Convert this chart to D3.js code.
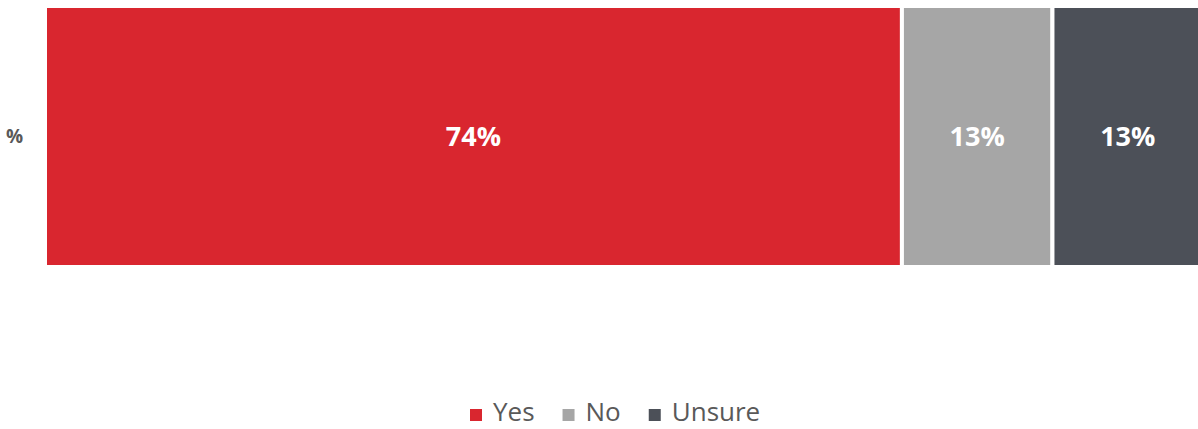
<!DOCTYPE html>
<html>
<head>
<meta charset="utf-8">
<script src="https://cdn.jsdelivr.net/npm/d3@7"></script>
<style>
  html, body { margin: 0; padding: 0; background: #fff; }
  svg { display: block; }
</style>
</head>
<body>
<svg id="chart" width="1198" height="429"></svg>
<script>
// Single stacked bar: share of responses
const categories = ["%"];
const seriesNames = ["Yes", "No", "Unsure"];
const seriesValues = [74, 13, 13];
const seriesColors = ["#D9262F", "#A6A6A6", "#4C5058"];

const svg = d3.select("#chart");
const W = 1198, H = 429;

const x = d3.scaleLinear().domain([0, 100]).range([45, 1203]);
const y = d3.scaleBand().domain(categories).range([6, 267]).padding(0);

// stack the series
const row = {};
seriesNames.forEach((s, i) => row[s] = seriesValues[i]);
const stacked = d3.stack().keys(seriesNames)([row]);

const g = svg.append("g");
stacked.forEach((layer, i) => {
  const d = layer[0];
  g.append("rect")
    .attr("x", x(d[0]))
    .attr("y", y(categories[0]))
    .attr("width", x(d[1]) - x(d[0]))
    .attr("height", y.bandwidth())
    .attr("fill", seriesColors[i])
    .attr("stroke", "#fff")
    .attr("stroke-width", 4);
  g.append("text")
    .attr("x", (x(d[0]) + x(d[1])) / 2)
    .attr("y", y(categories[0]) + y.bandwidth() / 2)
    .attr("dy", "0.36em")
    .attr("text-anchor", "middle")
    .attr("fill", "#fff")
    .style("font-family", "'Open Sans', sans-serif")
    .style("font-weight", 700)
    .style("font-size", "27px")
    .text(seriesValues[i] + "%");
});

// category axis label
const yAxis = svg.append("g").attr("transform", "translate(45,0)")
  .call(d3.axisLeft(y).tickSize(0).tickPadding(22));
yAxis.select(".domain").remove();
yAxis.selectAll("text")
  .attr("dy", "0.36em")
  .attr("fill", "#595959")
  .style("font-family", "'Open Sans', sans-serif")
  .style("font-weight", 700)
  .style("font-size", "19px");

// legend below the plot
const legend = svg.append("g");
const items = legend.selectAll("g").data(seriesNames).join("g");
items.append("rect")
  .attr("width", 12).attr("height", 12)
  .attr("y", -12)
  .attr("fill", (d, i) => seriesColors[i]);
items.append("text")
  .attr("x", 23)
  .attr("fill", "#595959")
  .style("font-family", "'Open Sans', sans-serif")
  .style("font-size", "26px")
  .text(d => d);
let cx = 0;
const gapItems = 28;
items.each(function () {
  const w = this.getBBox().width;
  d3.select(this).attr("transform", `translate(${cx},0)`);
  cx += w + gapItems;
});
legend.attr("transform", `translate(470,421)`);
</script>
</body>
</html>
